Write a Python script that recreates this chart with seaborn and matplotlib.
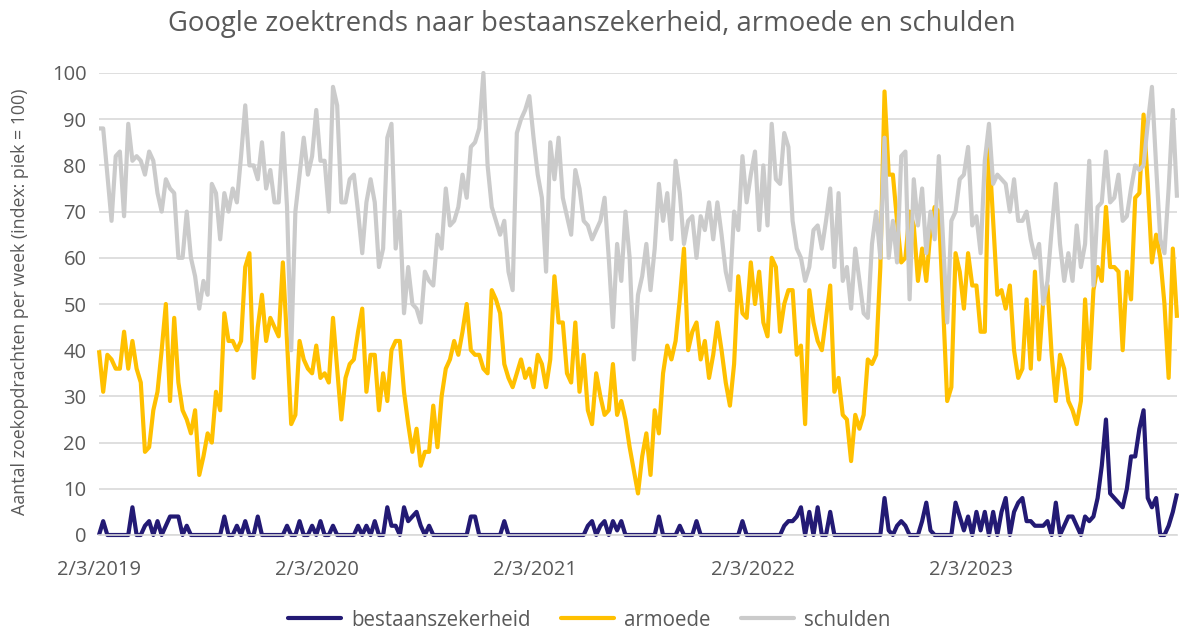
import numpy as np
import pandas as pd
import matplotlib
matplotlib.use("Agg")
import matplotlib.pyplot as plt
from matplotlib.lines import Line2D
import seaborn as sns

# ---------------- data (weekly Google Trends index, first week 2019-02-03) ----------------
start_date = "2019-02-03"
series_names = ["bestaanszekerheid", "armoede", "schulden"]

bestaanszekerheid = [
    0, 3, 0, 0, 0, 0, 0, 0, 6, 0,
    0, 2, 3, 0, 3, 0, 2, 4, 4, 4,
    0, 2, 0, 0, 0, 0, 0, 0, 0, 0,
    4, 0, 0, 2, 0, 3, 0, 0, 4, 0,
    0, 0, 0, 0, 0, 2, 0, 0, 3, 0,
    0, 2, 0, 3, 0, 0, 2, 0, 0, 0,
    0, 0, 2, 0, 2, 0, 3, 0, 0, 6,
    2, 2, 0, 6, 3, 4, 5, 2, 0, 2,
    0, 0, 0, 0, 0, 0, 0, 0, 0, 4,
    4, 0, 0, 0, 0, 0, 0, 3, 0, 0,
    0, 0, 0, 0, 0, 0, 0, 0, 0, 0,
    0, 0, 0, 0, 0, 0, 0, 2, 3, 0,
    2, 3, 0, 3, 1, 3, 0, 0, 0, 0,
    0, 0, 0, 0, 4, 0, 0, 0, 0, 2,
    0, 0, 0, 3, 0, 0, 0, 0, 0, 0,
    0, 0, 0, 0, 3, 0, 0, 0, 0, 0,
    0, 0, 0, 0, 2, 3, 3, 4, 6, 0,
    5, 0, 6, 0, 0, 5, 0, 0, 0, 0,
    0, 0, 0, 0, 0, 0, 0, 0, 8, 1,
    0, 2, 3, 2, 0, 0, 0, 3, 7, 1,
    0, 0, 0, 0, 0, 7, 4, 1, 4, 0,
    5, 1, 5, 0, 5, 0, 5, 8, 0, 5,
    7, 8, 3, 3, 2, 2, 2, 3, 0, 7,
    0, 2, 4, 4, 2, 0, 4, 3, 4, 8,
    15, 25, 9, 8, 7, 6, 10, 17, 17, 23,
    27, 8, 6, 8, 0, 0, 2, 5, 9,
]

armoede = [
    40, 31, 39, 38, 36, 36, 44, 36, 42, 36,
    33, 18, 19, 27, 31, 40, 50, 29, 47, 33,
    27, 25, 22, 27, 13, 17, 22, 20, 31, 27,
    48, 42, 42, 40, 42, 58, 61, 34, 45, 52,
    42, 47, 45, 43, 59, 42, 24, 26, 42, 38,
    36, 35, 41, 34, 35, 33, 47, 36, 25, 34,
    37, 38, 44, 49, 31, 39, 39, 27, 35, 29,
    40, 42, 42, 31, 24, 18, 23, 15, 18, 18,
    28, 19, 30, 36, 38, 42, 39, 44, 50, 40,
    39, 39, 36, 35, 53, 51, 48, 37, 34, 32,
    35, 38, 34, 36, 32, 39, 37, 32, 38, 56,
    46, 46, 35, 33, 46, 31, 39, 27, 24, 35,
    30, 26, 27, 37, 26, 29, 25, 19, 14, 9,
    17, 22, 13, 27, 22, 35, 41, 38, 42, 51,
    62, 40, 44, 46, 38, 42, 34, 39, 46, 40,
    33, 28, 37, 56, 48, 47, 59, 50, 57, 46,
    43, 60, 58, 44, 50, 53, 53, 39, 41, 24,
    53, 46, 42, 40, 47, 54, 31, 34, 26, 25,
    16, 26, 23, 26, 38, 37, 39, 58, 96, 78,
    78, 68, 59, 60, 70, 67, 55, 62, 55, 66,
    71, 70, 50, 29, 32, 61, 57, 49, 61, 54,
    54, 44, 44, 84, 68, 52, 53, 49, 54, 40,
    34, 36, 51, 36, 57, 38, 51, 54, 39, 29,
    39, 36, 29, 27, 24, 29, 51, 36, 53, 58,
    55, 71, 58, 58, 57, 40, 57, 51, 73, 74,
    91, 76, 59, 65, 60, 50, 34, 62, 47,
]

schulden = [
    88, 88, 78, 68, 82, 83, 69, 89, 81, 82,
    81, 78, 83, 81, 74, 70, 77, 75, 74, 60,
    60, 70, 60, 56, 49, 55, 52, 76, 74, 64,
    74, 70, 75, 72, 82, 93, 80, 80, 77, 85,
    75, 79, 72, 72, 87, 71, 40, 70, 78, 86,
    78, 82, 92, 81, 81, 70, 97, 93, 72, 72,
    77, 78, 70, 61, 72, 77, 72, 58, 62, 86,
    89, 62, 70, 48, 58, 50, 49, 46, 57, 55,
    54, 65, 62, 75, 67, 68, 71, 78, 73, 84,
    85, 88, 100, 80, 71, 68, 65, 68, 57, 53,
    87, 90, 92, 95, 86, 78, 73, 57, 85, 77,
    86, 73, 69, 65, 79, 75, 68, 67, 64, 66,
    68, 73, 60, 45, 63, 55, 70, 60, 38, 52,
    56, 63, 53, 62, 76, 68, 74, 64, 81, 74,
    63, 68, 69, 60, 69, 66, 72, 64, 72, 65,
    57, 53, 70, 66, 82, 72, 78, 83, 66, 80,
    67, 89, 77, 76, 87, 84, 68, 62, 60, 55,
    58, 66, 67, 62, 68, 75, 58, 74, 55, 58,
    49, 62, 55, 48, 47, 63, 70, 60, 86, 60,
    68, 59, 82, 83, 51, 77, 67, 75, 61, 70,
    64, 82, 64, 46, 68, 70, 77, 78, 84, 67,
    69, 61, 81, 89, 76, 78, 77, 76, 70, 77,
    68, 68, 70, 64, 60, 63, 50, 55, 66, 76,
    63, 55, 61, 55, 67, 58, 63, 81, 54, 71,
    72, 83, 72, 73, 78, 68, 69, 75, 80, 79,
    80, 89, 97, 80, 64, 61, 75, 92, 73,
]

tick_dates = ["2019-02-03", "2020-02-03", "2021-02-03", "2022-02-03", "2023-02-03"]
tick_labels = ["2/3/2019", "2/3/2020", "2/3/2021", "2/3/2022", "2/3/2023"]
y_ticks = [0, 10, 20, 30, 40, 50, 60, 70, 80, 90, 100]

title_text = "Google zoektrends naar bestaanszekerheid, armoede en schulden"
ylabel_text = "Aantal zoekopdrachten per week (index: piek = 100)"

# ---------------- build table ----------------
n = len(schulden)
dates = pd.date_range(start_date, periods=n, freq="7D")
wide = pd.DataFrame({
    "datum": dates,
    "bestaanszekerheid": bestaanszekerheid[:n],
    "armoede": armoede[:n],
    "schulden": schulden[:n],
})
long = wide.melt(id_vars="datum", value_vars=series_names,
                 var_name="reeks", value_name="index")

# ---------------- style ----------------
sns.set_style("white")
plt.rcParams['font.family'] = ['Open Sans', 'DejaVu Sans']
text_color = "#595959"
grid_color = "#d9d9d9"
palette = {"bestaanszekerheid": "#231a74", "armoede": "#ffc000", "schulden": "#cbcbcb"}

W, H = 1179, 631
fig = plt.figure(figsize=(W / 100, H / 100), dpi=100)
ax = fig.add_axes([99 / W, (H - 535) / H, (1177 - 99) / W, (535 - 73) / H])

sns.lineplot(data=long, x="datum", y="index", hue="reeks", hue_order=series_names,
             palette=palette, linewidth=3.0, ax=ax, legend=False)
for ln in ax.lines:
    ln.set_clip_on(False)
    ln.set_solid_joinstyle("round")
    ln.set_solid_capstyle("butt")

ax.set_ylim(0, 100)
ax.set_xlim(dates[0], dates[-1])
ax.set_yticks(y_ticks)
ax.set_xticks(pd.to_datetime(tick_dates))
ax.set_xticklabels(tick_labels)
ax.set_xlabel("")
ax.set_ylabel("")

ax.yaxis.grid(True, color=grid_color, linewidth=1.2)
ax.xaxis.grid(False)
ax.set_axisbelow(True)
for s in ["left", "right", "top"]:
    ax.spines[s].set_visible(False)
ax.spines["bottom"].set_color(grid_color)
ax.spines["bottom"].set_linewidth(1.2)
ax.tick_params(axis="x", colors=grid_color, length=5, width=1.2, direction="out",
               labelcolor=text_color, labelsize=14.5, pad=13)
ax.tick_params(axis="y", length=0, labelcolor=text_color, labelsize=14.5, pad=9)

fig.text(0.502, (H - 24) / H, title_text, ha="center", va="center",
         fontsize=19.8, color=text_color)
fig.text(20 / W, (H - 302) / H, ylabel_text, rotation=90, ha="center", va="center",
         fontsize=12.8, color=text_color)

handles = [Line2D([0], [0], color=palette[s], linewidth=3.0) for s in series_names]
fig.legend(handles, series_names, loc="center", bbox_to_anchor=(0.5, (H - 620) / H),
           ncol=3, frameon=False, fontsize=14.8, labelcolor=text_color,
           handlelength=2.55, handletextpad=0.5, columnspacing=1.5)

fig.savefig("out.png", dpi=100)
